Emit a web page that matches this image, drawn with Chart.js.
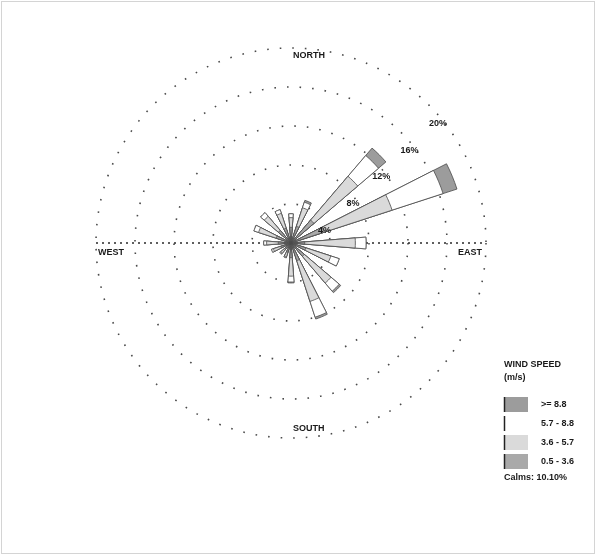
<!DOCTYPE html>
<html>
<head>
<meta charset="utf-8">
<script src="https://cdn.jsdelivr.net/npm/chart.js@4.4.1/dist/chart.umd.min.js"></script>
<style>
  html, body { margin: 0; padding: 0; background: #fff; }
  canvas { display: block; }
</style>
</head>
<body>
<canvas id="rose" width="596" height="555"></canvas>
<script>
// 16-point wind directions, clockwise from north
const directions = ['N','NNE','NE','ENE','E','ESE','SE','SSE','S','SSW','SW','WSW','W','WNW','NW','NNW'];

// frequency (%) of each speed class per direction, lowest class first
const speedLow  = [1.6, 1.8, 3.1, 3.6, 1.4, 1.6, 1.8, 1.9, 1.5, 1.0, 0.9, 1.1, 1.3, 1.6, 1.7, 1.6];
const speedMid  = [1.0, 2.0, 5.9, 7.3, 5.2, 2.7, 3.6, 4.4, 1.9, 0.5, 0.5, 0.8, 1.2, 1.9, 1.9, 1.6];
const speedHigh = [0.4, 0.6, 2.8, 5.5, 1.1, 0.9, 1.1, 1.7, 0.6, 0.1, 0.1, 0.2, 0.3, 0.5, 0.5, 0.4];
const speedTop  = [0.0, 0.2, 1.0, 1.5, 0.0, 0.0, 0.2, 0.2, 0.1, 0.0, 0.0, 0.0, 0.0, 0.0, 0.0, 0.0];

// speed class labels, lowest class first
const classLabels = ['0.5 - 3.6', '3.6 - 5.7', '5.7 - 8.8', '>= 8.8'];
const classColors = ['#a9a9a9', '#dadada', '#ffffff', '#9c9c9c'];

// ring values (%) and compass captions
const ringTicks = [4, 8, 12, 16, 20];
const compassNames = ['NORTH', 'EAST', 'SOUTH', 'WEST'];
const legendTitle = ['WIND SPEED', '(m/s)'];
const calmsText = 'Calms: 10.10%';

const SPOKE_DEG = 9;          // angular width of each petal
const STEP_DEG = 360 / directions.length;
const FONT = "bold 9px 'Liberation Sans', Arial, sans-serif";

// cumulative totals so each class is drawn as a ring segment of its petal
const classes = [speedLow, speedMid, speedHigh, speedTop];
const cumulative = [];
classes.forEach((arr, k) => {
  cumulative.push(arr.map((v, i) => +(v + (k ? cumulative[k - 1][i] : 0)).toFixed(2)));
});

// petals alternate with empty gap slots
const slotLabels = [];
directions.forEach(d => { slotLabels.push(d, ''); });
const withGaps = arr => arr.flatMap(v => [v, 0]);

const datasets = cumulative.map((arr, k) => ({
  label: classLabels[k],
  data: withGaps(arr),
  backgroundColor: classColors[k],
  borderColor: '#4a4a4a',
  borderWidth: ctx => (ctx.raw ? 0.8 : 0),
  angle: ctx => (ctx.dataIndex % 2 === 0 ? SPOKE_DEG : STEP_DEG - SPOKE_DEG)
}));

const roseDecor = {
  id: 'roseDecor',
  beforeDatasetsDraw(chart) {
    const s = chart.scales.r;
    const ctx = chart.ctx;
    ctx.save();
    ctx.strokeStyle = '#2a2a2a';
    ctx.lineWidth = 1.6;
    ctx.setLineDash([2, 4]);
    ctx.beginPath();
    ctx.moveTo(s.xCenter - s.drawingArea, s.yCenter);
    ctx.lineTo(s.xCenter + s.drawingArea, s.yCenter);
    ctx.stroke();
    ctx.restore();
  },
  afterDatasetsDraw(chart) {
    const s = chart.scales.r;
    const ctx = chart.ctx;
    ctx.save();
    ctx.font = FONT;
    ctx.fillStyle = '#1a1a1a';
    // ring percentage labels along the north-east diagonal
    const a = 46.6 * Math.PI / 180;
    const dx = Math.sin(a), dy = -Math.cos(a);
    ringTicks.forEach(v => {
      const t = s.getDistanceFromCenterForValue(v) - 6;
      const x = s.xCenter + t * dx + 14 * Math.cos(a);
      const y = s.yCenter + t * dy + 14 * Math.sin(a);
      ctx.textAlign = 'center';
      ctx.textBaseline = 'middle';
      ctx.fillText(v + '%', x, y);
    });
    // compass captions
    const r = s.drawingArea;
    ctx.textBaseline = 'top';
    ctx.textAlign = 'left';
    ctx.fillText(compassNames[0], s.xCenter + 2, s.yCenter - r + 3);
    ctx.textBaseline = 'bottom';
    ctx.fillText(compassNames[2], s.xCenter + 2, s.yCenter + r - 5);
    ctx.textBaseline = 'top';
    ctx.fillText(compassNames[3], s.xCenter - r + 2, s.yCenter + 5);
    ctx.textAlign = 'right';
    ctx.fillText(compassNames[1], s.xCenter + r - 4, s.yCenter + 5);
    ctx.restore();
  },
  afterDraw(chart) {
    const ctx = chart.ctx;
    ctx.save();
    // page frame
    ctx.strokeStyle = '#d4d4d4';
    ctx.lineWidth = 1;
    ctx.strokeRect(1.5, 1.5, chart.width - 3, chart.height - 3);
    // legend, highest class on top
    ctx.font = FONT;
    ctx.fillStyle = '#1a1a1a';
    ctx.textAlign = 'left';
    ctx.textBaseline = 'middle';
    const x0 = 504;
    ctx.fillText(legendTitle[0], x0, 365);
    ctx.fillText(legendTitle[1], x0, 378);
    const n = chart.data.datasets.length;
    for (let row = 0; row < n; row++) {
      const ds = chart.data.datasets[n - 1 - row];
      const y = 397 + row * 19;
      ctx.fillStyle = ds.backgroundColor;
      ctx.fillRect(x0, y, 24, 15);
      ctx.strokeStyle = '#222';
      ctx.lineWidth = 1.5;
      ctx.beginPath();
      ctx.moveTo(x0 + 0.5, y);
      ctx.lineTo(x0 + 0.5, y + 15);
      ctx.stroke();
      ctx.fillStyle = '#1a1a1a';
      ctx.fillText(ds.label, x0 + 37, y + 8);
    }
    ctx.fillText(calmsText, x0, 478);
    ctx.restore();
  }
};

new Chart(document.getElementById('rose'), {
  type: 'polarArea',
  data: { labels: slotLabels, datasets },
  options: {
    responsive: false,
    animation: false,
    layout: { padding: { left: 96, right: 110, top: 48, bottom: 117 } },
    plugins: { legend: { display: false }, tooltip: { enabled: false } },
    scales: {
      r: {
        min: 0,
        max: ringTicks[ringTicks.length - 1],
        startAngle: -SPOKE_DEG / 2,
        ticks: { display: false, stepSize: ringTicks[1] - ringTicks[0] },
        grid: { circular: true, color: '#4a4a4a', lineWidth: 1.6 },
        border: { dash: [1.6, 11] },
        angleLines: { display: false },
        pointLabels: { display: false }
      }
    }
  },
  plugins: [roseDecor]
});
</script>
</body>
</html>
